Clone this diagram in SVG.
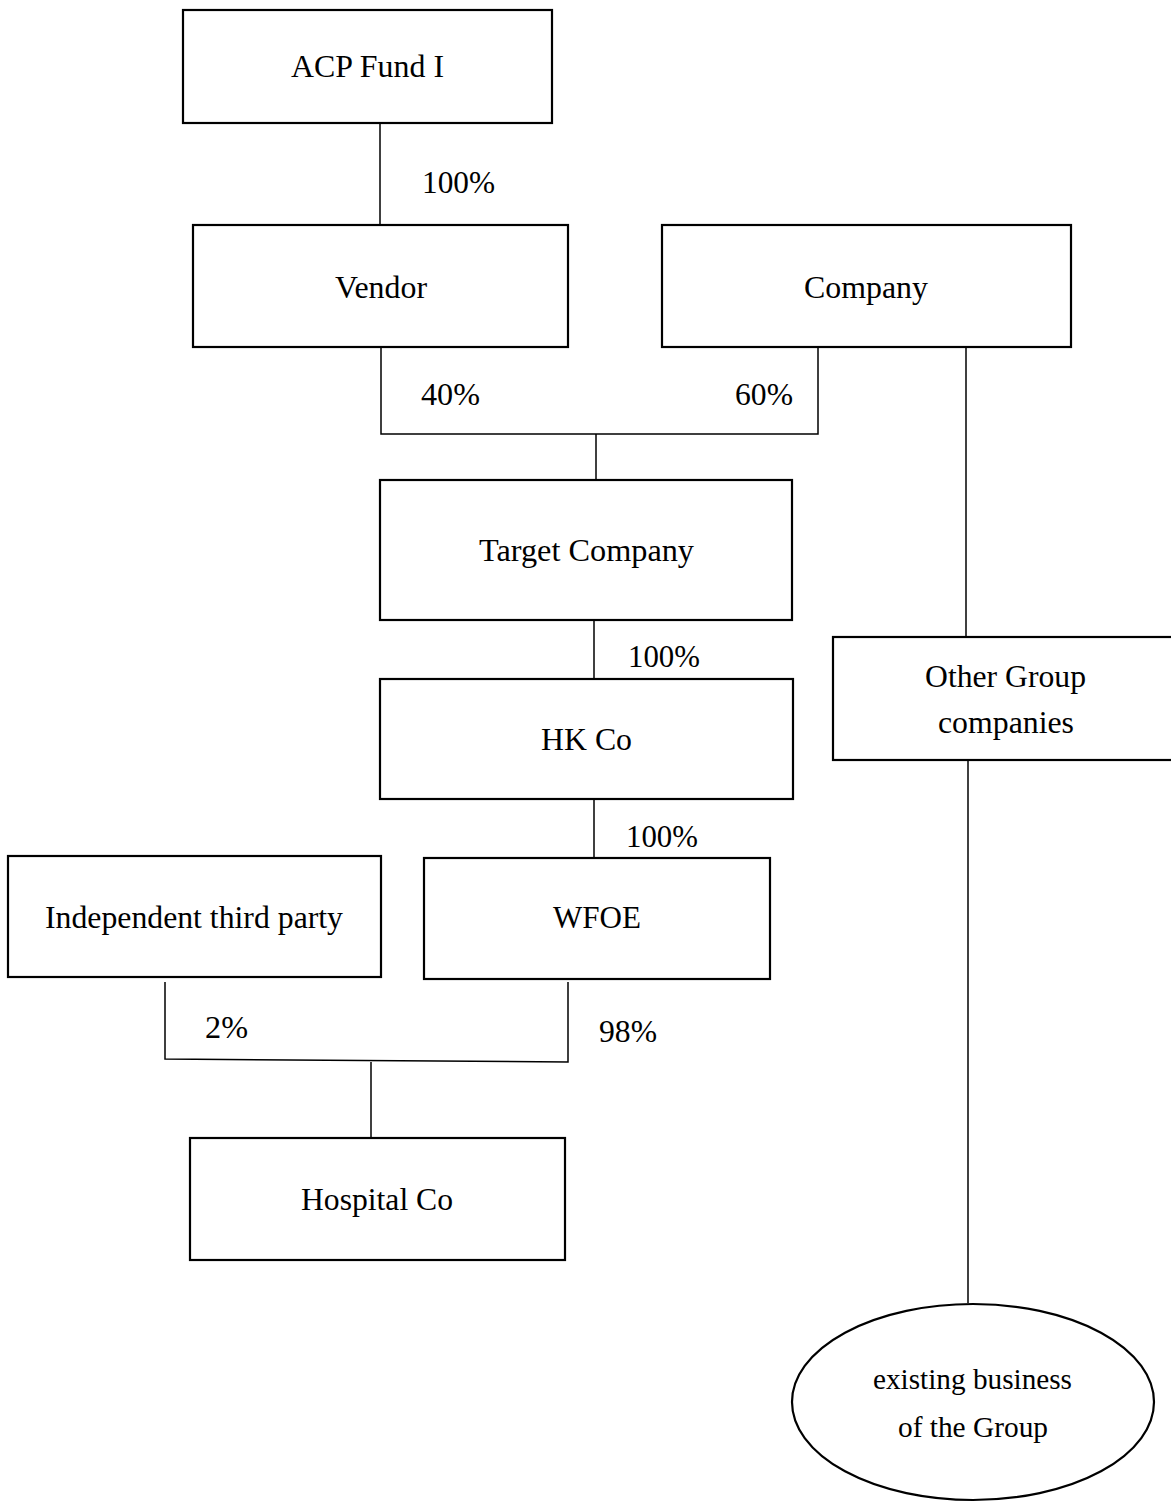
<svg xmlns="http://www.w3.org/2000/svg" width="1171" height="1502" viewBox="0 0 1171 1502">
<style>
.box{fill:#fff;stroke:#000;stroke-width:2.2}
.ln{fill:none;stroke:#000;stroke-width:1.5}
text{font-family:"Liberation Serif","Times New Roman",serif;font-size:31px;fill:#000}
.s{font-size:29px}
</style>
<rect width="1171" height="1502" fill="#fff"/>
<g id="connectors">
<line class="ln" x1="380" y1="123" x2="380" y2="225"/>
<polyline class="ln" points="381,347 381,434 818,434 818,347"/>
<line class="ln" x1="596" y1="434" x2="596" y2="480"/>
<line class="ln" x1="594" y1="620" x2="594" y2="679"/>
<line class="ln" x1="594" y1="799" x2="594" y2="858"/>
<polyline class="ln" points="165,982 165,1059 568,1062 568,982"/>
<line class="ln" x1="371" y1="1062" x2="371" y2="1138"/>
<line class="ln" x1="966" y1="347" x2="966" y2="637"/>
<line class="ln" x1="968" y1="760" x2="968" y2="1303"/>
<text x="422" y="193" textLength="73" lengthAdjust="spacingAndGlyphs">100%</text>
<text x="421" y="405" textLength="59" lengthAdjust="spacingAndGlyphs">40%</text>
<text x="735" y="405" textLength="58" lengthAdjust="spacingAndGlyphs">60%</text>
<text x="628" y="667" textLength="72" lengthAdjust="spacingAndGlyphs">100%</text>
<text x="626" y="847" textLength="72" lengthAdjust="spacingAndGlyphs">100%</text>
<text x="205" y="1038" textLength="43" lengthAdjust="spacingAndGlyphs">2%</text>
<text x="599" y="1042" textLength="58" lengthAdjust="spacingAndGlyphs">98%</text>
</g>
<g id="acp">
<rect class="box" x="183" y="10" width="369" height="113"/>
<text x="291" y="77" textLength="153" lengthAdjust="spacingAndGlyphs">ACP Fund I</text>
</g>
<g id="vendor">
<rect class="box" x="193" y="225" width="375" height="122"/>
<text x="335" y="298" textLength="92" lengthAdjust="spacingAndGlyphs">Vendor</text>
</g>
<g id="company">
<rect class="box" x="662" y="225" width="409" height="122"/>
<text x="804" y="298" textLength="124" lengthAdjust="spacingAndGlyphs">Company</text>
</g>
<g id="target">
<rect class="box" x="380" y="480" width="412" height="140"/>
<text x="479" y="561" textLength="215" lengthAdjust="spacingAndGlyphs">Target Company</text>
</g>
<g id="hkco">
<rect class="box" x="380" y="679" width="413" height="120"/>
<text x="541" y="750" textLength="91" lengthAdjust="spacingAndGlyphs">HK Co</text>
</g>
<g id="other">
<rect class="box" x="833" y="637" width="345" height="123"/>
<text x="925" y="687" textLength="161" lengthAdjust="spacingAndGlyphs">Other Group</text>
<text x="938" y="733" textLength="136" lengthAdjust="spacingAndGlyphs">companies</text>
</g>
<g id="independent">
<rect class="box" x="8" y="856" width="373" height="121"/>
<text x="45" y="928" textLength="298" lengthAdjust="spacingAndGlyphs">Independent third party</text>
</g>
<g id="wfoe">
<rect class="box" x="424" y="858" width="346" height="121"/>
<text x="553" y="928" textLength="88" lengthAdjust="spacingAndGlyphs">WFOE</text>
</g>
<g id="hospital">
<rect class="box" x="190" y="1138" width="375" height="122"/>
<text x="301" y="1210" textLength="152" lengthAdjust="spacingAndGlyphs">Hospital Co</text>
</g>
<g id="existing">
<ellipse class="box" cx="973" cy="1402" rx="181" ry="98"/>
<text class="s" x="873" y="1389" textLength="199" lengthAdjust="spacingAndGlyphs">existing business</text>
<text class="s" x="898" y="1437" textLength="150" lengthAdjust="spacingAndGlyphs">of the Group</text>
</g>
</svg>
